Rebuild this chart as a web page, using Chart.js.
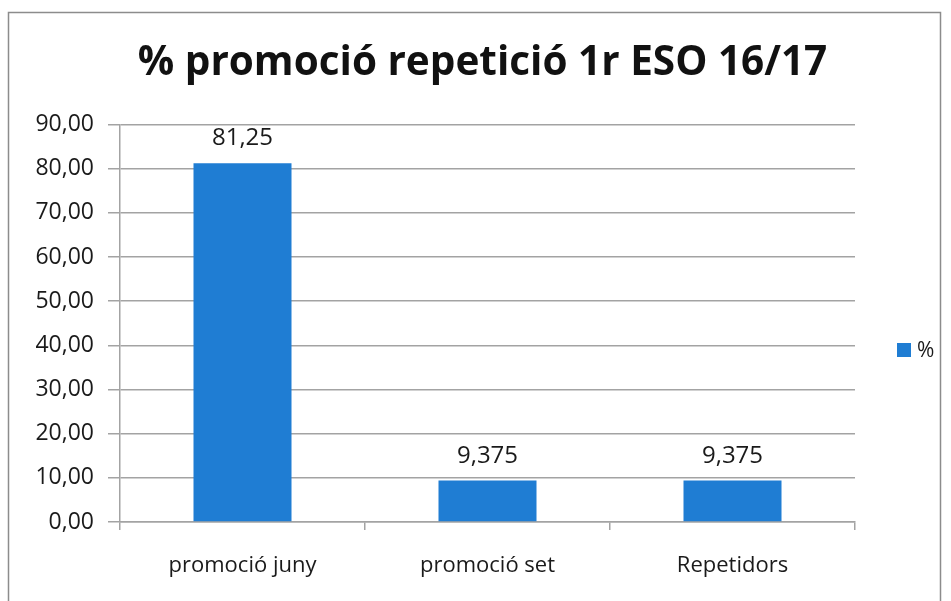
<!DOCTYPE html>
<html>
<head>
<meta charset="utf-8">
<script src="https://cdn.jsdelivr.net/npm/chart.js@4"></script>
<style>
  body { margin: 0; background: #fff; }
  #wrap { width: 951px; height: 601px; position: relative; }
</style>
</head>
<body>
<div id="wrap"><canvas id="promoChart"></canvas></div>
<script>
const categories = ["promoció juny", "promoció set", "Repetidors"];
const percentValues = [81.25, 9.375, 9.375];
const seriesName = "%";
const chartTitle = "% promoció repetició 1r ESO 16/17";

const barColor = '#1f7dd3';
const gridColor = '#a3a3a3';
const textColor = '#1a1a1a';

// frame round the whole chart, open at the bottom like the scan
const framePlugin = {
  id: 'frame',
  beforeDraw(chart) {
    const ctx = chart.ctx;
    ctx.save();
    ctx.strokeStyle = '#8c8c8c';
    ctx.lineWidth = 1.5;
    ctx.beginPath();
    ctx.moveTo(8.5, 601);
    ctx.lineTo(8.5, 12.5);
    ctx.lineTo(940.5, 12.5);
    ctx.lineTo(940.5, 601);
    ctx.stroke();
    ctx.restore();
  }
};

// value labels above each bar
const valueLabels = {
  id: 'valueLabels',
  afterDatasetsDraw(chart) {
    const ctx = chart.ctx;
    const meta = chart.getDatasetMeta(0);
    ctx.save();
    ctx.font = '24px "Open Sans"';
    ctx.fillStyle = textColor;
    ctx.textAlign = 'center';
    ctx.textBaseline = 'alphabetic';
    meta.data.forEach((bar, i) => {
      const v = chart.data.datasets[0].data[i];
      ctx.fillText(String(v).replace('.', ','), bar.x, bar.y - 18);
    });
    ctx.restore();
  }
};

// legend on the right, one entry
const sideLegend = {
  id: 'sideLegend',
  afterDraw(chart) {
    const ctx = chart.ctx;
    const ds = chart.data.datasets[0];
    const x = chart.chartArea.right + 42;
    const y = 350;
    ctx.save();
    ctx.fillStyle = ds.backgroundColor;
    ctx.fillRect(x, y - 7, 14, 14);
    ctx.font = '21px "Open Sans"';
    ctx.fillStyle = textColor;
    ctx.textBaseline = 'middle';
    ctx.fillText(ds.label, x + 20, y + 1);
    ctx.restore();
  }
};

const ctx = document.getElementById('promoChart').getContext('2d');
new Chart(ctx, {
  type: 'bar',
  data: {
    labels: categories,
    datasets: [{
      label: seriesName,
      data: percentValues,
      backgroundColor: barColor,
      borderWidth: 0,
      categoryPercentage: 1,
      barPercentage: 0.4
    }]
  },
  plugins: [framePlugin, valueLabels, sideLegend],
  options: {
    responsive: true,
    maintainAspectRatio: false,
    animation: false,
    layout: { padding: { left: 14, right: 0, top: 0, bottom: 0 } },
    plugins: {
      legend: { display: false },
      tooltip: { enabled: false },
      title: {
        display: true,
        text: chartTitle,
        color: '#111',
        font: { family: 'Open Sans', size: 40.5, weight: 'bold', lineHeight: 1.2 },
        padding: { top: 39, bottom: 37 }
      }
    },
    scales: {
      x: {
        offset: true,
        grid: {
          offset: true,
          drawOnChartArea: false,
          drawTicks: true,
          tickLength: 8,
          color: gridColor,
          lineWidth: 1.5
        },
        border: { display: true, color: gridColor, width: 1.5 },
        ticks: {
          color: textColor,
          padding: 23,
          font: { family: 'Open Sans', size: 22 }
        },
        afterFit(scale) { scale.height = 79; }
      },
      y: {
        min: 0,
        max: 90,
        ticks: {
          stepSize: 10,
          color: textColor,
          padding: 14,
          font: { family: 'Open Sans', size: 23 },
          callback: v => v.toFixed(2).replace('.', ',')
        },
        grid: {
          color: gridColor,
          lineWidth: 1.5,
          tickLength: 12
        },
        border: { display: true, color: gridColor, width: 1.5 },
        afterFit(scale) { scale.width = 106; }
      },
      // empty right-hand axis that only reserves room for the legend
      legendSpace: {
        type: 'linear',
        position: 'right',
        display: true,
        ticks: { display: false },
        grid: { display: false, drawTicks: false },
        border: { display: false },
        afterFit(scale) { scale.width = 96; }
      }
    }
  }
});
</script>
</body>
</html>
